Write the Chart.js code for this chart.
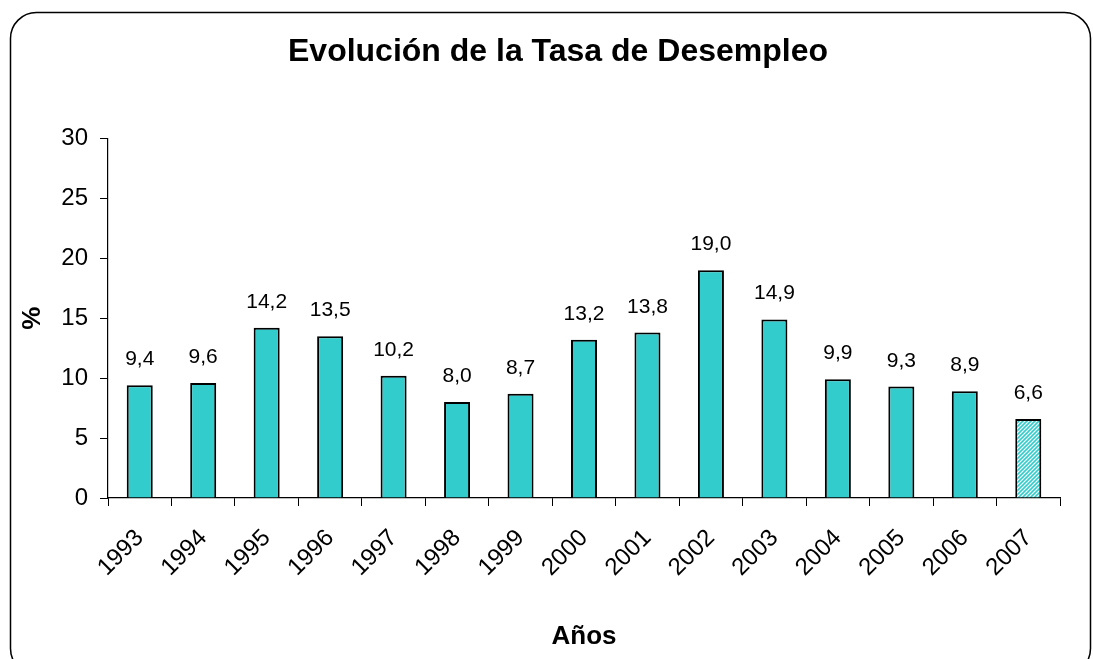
<!DOCTYPE html>
<html>
<head>
<meta charset="utf-8">
<script src="https://cdn.jsdelivr.net/npm/chart.js@4.4.0/dist/chart.umd.min.js"></script>
<style>
  html, body { margin: 0; padding: 0; background: #fff; }
  #wrap { width: 1093px; height: 659px; position: relative; }
</style>
</head>
<body>
<div id="wrap"><canvas id="grafico"></canvas></div>
<script>
const anos = ['1993','1994','1995','1996','1997','1998','1999','2000','2001','2002','2003','2004','2005','2006','2007'];
const tasa = [9.4, 9.6, 14.2, 13.5, 10.2, 8.0, 8.7, 13.2, 13.8, 19.0, 14.9, 9.9, 9.3, 8.9, 6.6];
const ticks_y = [0, 5, 10, 15, 20, 25, 30];

const fuente = '"Liberation Sans", Arial, sans-serif';
const turquesa = '#33CCCC';

// rayado para el ultimo año (estimado)
function rayado(){
    const c = document.createElement('canvas');
    c.width = 4; c.height = 4;
    const ctx = c.getContext('2d');
    ctx.fillStyle = '#fff';
    ctx.fillRect(0, 0, 4, 4);
    ctx.strokeStyle = turquesa;
    ctx.lineWidth = 1.6;
    ctx.beginPath();
    ctx.moveTo(0, 4); ctx.lineTo(4, 0);
    ctx.moveTo(-1, 1); ctx.lineTo(1, -1);
    ctx.moveTo(3, 5); ctx.lineTo(5, 3);
    ctx.stroke();
    return ctx.createPattern(c, 'repeat');
}

const colores = anos.map((a, i) => i == anos.length - 1 ? rayado() : turquesa);

// marco redondeado + titulo centrado como en el original
const marco = {
    id: 'marco',
    afterLayout(chart){
        if(chart.titleBlock){
            chart.titleBlock.left += 28;
            chart.titleBlock.right += 28;
        }
    },
    beforeDraw(chart){
        const ctx = chart.ctx;
        ctx.save();
        ctx.fillStyle = '#fff';
        ctx.fillRect(0, 0, chart.width, chart.height);
        ctx.strokeStyle = '#000';
        ctx.lineWidth = 1.5;
        ctx.beginPath();
        ctx.roundRect(10.5, 12.5, 1080, 662, 26);
        ctx.stroke();
        ctx.restore();
    }
};

// etiquetas de valores
const etiquetas = {
    id: 'etiquetas',
    afterDatasetsDraw(chart){
        const ctx = chart.ctx;
        const meta = chart.getDatasetMeta(0);
        ctx.save();
        ctx.font = '21px ' + fuente;
        ctx.fillStyle = '#000';
        ctx.textAlign = 'center';
        ctx.textBaseline = 'alphabetic';
        meta.data.forEach((barra, i) => {
            const txt = tasa[i].toFixed(1).replace('.', ',');
            ctx.fillText(txt, barra.x, barra.y - 20);
        });
        ctx.restore();
    }
};

new Chart(document.getElementById('grafico'), {
    type: 'bar',
    data: {
        labels: anos,
        datasets: [{
            data: tasa,
            backgroundColor: colores,
            borderColor: '#000',
            borderWidth: 2,
            categoryPercentage: 1,
            barPercentage: 0.41
        }]
    },
    options: {
        responsive: true,
        maintainAspectRatio: false,
        animation: false,
        layout: { padding: { left: 0, right: 33, top: 0, bottom: 0 } },
        plugins: {
            legend: { display: false },
            tooltip: { enabled: false },
            title: {
                display: true,
                text: 'Evolución de la Tasa de Desempleo',
                color: '#000',
                font: { family: fuente, size: 32, weight: 'bold' },
                padding: { top: 33, bottom: 67 }
            }
        },
        scales: {
            x: {
                afterFit(scale){ scale.height = 161; },
                border: { color: '#000', width: 1.2 },
                grid: { display: true, drawOnChartArea: false, drawTicks: true, tickLength: 8, color: '#000', offset: true },
                ticks: {
                    color: '#000',
                    font: { family: fuente, size: 24 },
                    maxRotation: 45,
                    minRotation: 45,
                    padding: 18
                },
                title: {
                    display: true,
                    text: 'Años',
                    color: '#000',
                    font: { family: fuente, size: 26, weight: 'bold' },
                    padding: { top: 0, bottom: 7 }
                }
            },
            y: {
                min: 0,
                max: 30,
                afterFit(scale){ scale.width = 108; },
                afterBuildTicks(scale){ scale.ticks = ticks_y.map(v => ({ value: v })); },
                border: { color: '#000', width: 1.2 },
                grid: { display: true, drawOnChartArea: false, drawTicks: true, tickLength: 8, color: '#000' },
                ticks: {
                    color: '#000',
                    font: { family: fuente, size: 24 },
                    padding: 12
                },
                title: {
                    display: true,
                    text: '%',
                    color: '#000',
                    font: { family: fuente, size: 26, weight: 'bold' },
                    padding: { top: 17, bottom: 0 }
                }
            }
        }
    },
    plugins: [marco, etiquetas]
});
</script>
</body>
</html>
